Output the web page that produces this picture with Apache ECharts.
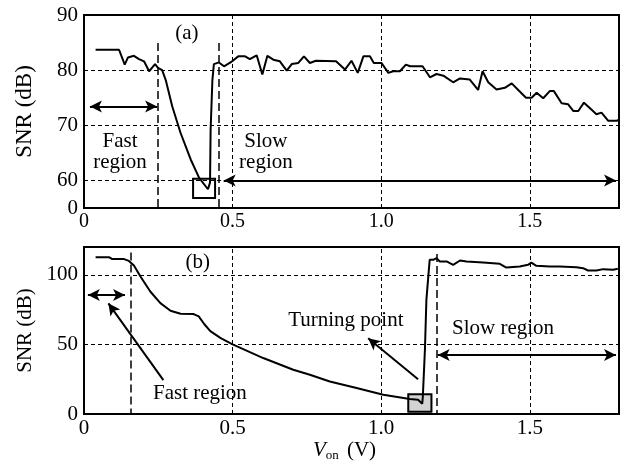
<!DOCTYPE html>
<html>
<head>
<meta charset="utf-8">
<script src="https://cdn.jsdelivr.net/npm/echarts@6/dist/echarts.min.js"></script>
<style>
  html, body { margin: 0; padding: 0; background: #fff; }
  #main { width: 626px; height: 470px; }
</style>
</head>
<body>
<div id="main"></div>
<script>
// panel (a): SNR vs Von
var topV = [0.039, 0.118, 0.137, 0.148, 0.168, 0.185, 0.202, 0.219, 0.230, 0.239, 0.249, 0.263, 0.275, 0.297, 0.325, 0.359, 0.387, 0.417, 0.424, 0.426, 0.432, 0.437, 0.454, 0.471, 0.493, 0.519, 0.542, 0.558, 0.581, 0.600, 0.617, 0.637, 0.659, 0.682, 0.699, 0.721, 0.740, 0.760, 0.780, 0.848, 0.878, 0.900, 0.921, 0.940, 0.962, 0.975, 1.001, 1.024, 1.040, 1.063, 1.083, 1.097, 1.139, 1.164, 1.186, 1.209, 1.242, 1.265, 1.298, 1.326, 1.341, 1.360, 1.388, 1.416, 1.439, 1.461, 1.487, 1.506, 1.523, 1.545, 1.567, 1.581, 1.607, 1.629, 1.646, 1.663, 1.682, 1.708, 1.724, 1.741, 1.764, 1.792, 1.800]
var topSNR = [83.7, 83.7, 81.0, 82.3, 82.6, 82.0, 81.6, 79.8, 80.5, 81.1, 80.4, 80.0, 78.2, 73.4, 68.6, 63.8, 60.5, 58.4, 59.6, 69.2, 78.2, 81.1, 81.4, 80.7, 81.4, 82.5, 82.5, 82.0, 82.7, 79.2, 82.6, 81.9, 81.6, 79.9, 81.1, 81.3, 82.5, 81.3, 81.7, 81.6, 80.1, 81.7, 79.5, 82.5, 82.5, 81.3, 81.3, 79.5, 79.8, 79.8, 81.0, 80.7, 80.7, 78.7, 79.3, 79.0, 77.8, 78.5, 78.3, 76.4, 79.8, 77.8, 76.5, 76.8, 77.6, 76.4, 75.0, 75.0, 75.9, 74.9, 76.2, 76.2, 74.0, 73.8, 72.6, 72.6, 74.1, 72.8, 72.0, 72.3, 70.8, 70.8, 71.0]

// panel (b)
var botV = [0.039, 0.084, 0.095, 0.135, 0.151, 0.168, 0.190, 0.223, 0.257, 0.291, 0.325, 0.369, 0.386, 0.405, 0.425, 0.460, 0.500, 0.603, 0.704, 0.760, 0.827, 0.917, 1.007, 1.096, 1.124, 1.138, 1.140, 1.147, 1.152, 1.163, 1.175, 1.186, 1.197, 1.220, 1.242, 1.265, 1.287, 1.343, 1.399, 1.421, 1.466, 1.494, 1.505, 1.522, 1.567, 1.600, 1.657, 1.679, 1.696, 1.724, 1.747, 1.780, 1.796]
var botSNR = [112.7, 112.7, 111.3, 111.3, 110.0, 106.7, 98.8, 88.0, 79.7, 74.2, 72.0, 71.8, 70.1, 64.5, 59.5, 54.5, 50.0, 40.2, 31.8, 28.2, 23.4, 18.7, 13.9, 10.8, 10.3, 7.4, 12.6, 46, 82, 110.8, 110.8, 112, 109.6, 109.6, 107.2, 110.3, 109.6, 108.8, 107.9, 105.2, 106.0, 107.2, 108.8, 106.5, 106.0, 106.0, 105.5, 104.8, 103.1, 103.1, 104.1, 103.6, 104.3]

// tick labels
var xTicks = [0, 0.5, 1.0, 1.5]
var xTickLabels = ['0', '0.5', '1.0', '1.5']
var topYTicks = [55, 60, 70, 80, 90]
var topYLabels = ['0', '60', '70', '80', '90']
var botYTicks = [0, 50, 100]
var botYLabels = ['0', '50', '100']

function zip(xs, ys) {
  return xs.map(function (x, i) { return [x, ys[i]] })
}
function pick(ticks, labels) {
  return function (v) {
    for (var i = 0; i < ticks.length; i++) {
      if (Math.abs(ticks[i] - v) < 1e-6) return labels[i]
    }
    return ''
  }
}

var font = 'Liberation Serif'
var grid = { type: [4, 3], color: '#000', width: 1 }
var region = { type: [8, 4], color: '#000', width: 1.5 }
var arrowLine = { type: 'solid', color: '#000', width: 2 }

function hline(y) { return { yAxis: y, lineStyle: grid } }
function vline(x) { return { xAxis: x, lineStyle: grid } }
function seg(x1, y1, x2, y2, style, s1, s2) {
  return [
    { coord: [x1, y1], symbol: s1 || 'none', symbolSize: [9, 12], lineStyle: style },
    { coord: [x2, y2], symbol: s2 || 'none', symbolSize: [9, 12] }
  ]
}
function note(text, x, y, size) {
  return {
    coord: [x, y], value: text,
    label: { formatter: text, fontSize: size || 21, lineHeight: 21 }
  }
}

var markPointBase = {
  symbol: 'circle', symbolSize: 1, silent: true,
  itemStyle: { color: 'rgba(0,0,0,0)' },
  label: { show: true, position: 'inside', color: '#000', fontFamily: font }
}

var myChart = echarts.init(document.getElementById('main'))
var option = {
  animation: false,
  grid: [
    { left: 84, top: 15, width: 535, height: 193, show: true, borderColor: '#000', borderWidth: 2 },
    { left: 84, top: 247, width: 535, height: 167, show: true, borderColor: '#000', borderWidth: 2 }
  ],
  xAxis: [
    {
      gridIndex: 0, type: 'value', min: 0, max: 1.8, interval: 0.5,
      axisLine: { show: false }, axisTick: { show: false }, splitLine: { show: false },
      axisLabel: { formatter: pick(xTicks, xTickLabels), color: '#000', fontFamily: font, fontSize: 20, margin: 4 }
    },
    {
      gridIndex: 1, type: 'value', min: 0, max: 1.8, interval: 0.5,
      axisLine: { show: false }, axisTick: { show: false }, splitLine: { show: false },
      axisLabel: { formatter: pick(xTicks, xTickLabels), color: '#000', fontFamily: font, fontSize: 21, margin: 4 },
      name: '{i|V}{s|on} (V)', nameLocation: 'middle', nameGap: 24,
      nameTextStyle: {
        color: '#000', fontFamily: font, fontSize: 21, padding: [0, 14, 0, 0],
        rich: {
          i: { fontStyle: 'italic', fontFamily: font, fontSize: 21, color: '#000' },
          s: { fontFamily: font, fontSize: 13, color: '#000', padding: [10, 3, 0, 0] }
        }
      }
    }
  ],
  yAxis: [
    {
      gridIndex: 0, type: 'value', min: 55, max: 90, interval: 5,
      axisLine: { show: false }, axisTick: { show: false }, splitLine: { show: false },
      axisLabel: { formatter: pick(topYTicks, topYLabels), color: '#000', fontFamily: font, fontSize: 21, margin: 6 },
      name: 'SNR (dB)', nameLocation: 'middle', nameGap: 48, nameRotate: 90,
      nameTextStyle: { color: '#000', fontFamily: font, fontSize: 23 }
    },
    {
      gridIndex: 1, type: 'value', min: 0, max: 120, interval: 50,
      axisLine: { show: false }, axisTick: { show: false }, splitLine: { show: false },
      axisLabel: { formatter: pick(botYTicks, botYLabels), color: '#000', fontFamily: font, fontSize: 21, margin: 6 },
      name: 'SNR (dB)', nameLocation: 'middle', nameGap: 48, nameRotate: 90,
      nameTextStyle: { color: '#000', fontFamily: font, fontSize: 21 }
    }
  ],
  series: [
    {
      name: '(a)', type: 'line', xAxisIndex: 0, yAxisIndex: 0,
      data: zip(topV, topSNR), showSymbol: false, silent: true,
      lineStyle: { color: '#000', width: 2 },
      markLine: {
        silent: true, symbol: ['none', 'none'], label: { show: false },
        data: [
          hline(60), hline(70), hline(80),
          vline(0.5), vline(1.0), vline(1.5),
          seg(0.249, 84.9, 0.249, 55, region),
          seg(0.454, 84.9, 0.454, 55, region),
          seg(0.02, 73.4, 0.246, 73.4, arrowLine, 'arrow', 'arrow'),
          seg(0.47, 60, 1.79, 60, arrowLine, 'arrow', 'arrow')
        ]
      },
      markArea: {
        silent: true,
        itemStyle: { color: 'rgba(0,0,0,0)', borderColor: '#000', borderWidth: 2 },
        data: [[{ coord: [0.367, 60.3] }, { coord: [0.441, 56.8] }]]
      },
      markPoint: Object.assign({}, markPointBase, {
        data: [
          note('(a)', 0.346, 86.7, 21),
          note('Fast\nregion', 0.121, 65.2, 21),
          note('Slow\nregion', 0.612, 65.2, 21)
        ]
      })
    },
    {
      name: '(b)', type: 'line', xAxisIndex: 1, yAxisIndex: 1,
      data: zip(botV, botSNR), showSymbol: false, silent: true,
      lineStyle: { color: '#000', width: 2 },
      markLine: {
        silent: true, symbol: ['none', 'none'], label: { show: false },
        data: [
          hline(50), hline(100),
          vline(0.5), vline(1.0), vline(1.5),
          seg(0.158, 116, 0.158, 0, region),
          seg(1.186, 115, 1.186, 0, region),
          seg(0.013, 85.5, 0.138, 85.5, arrowLine, 'arrow', 'arrow'),
          seg(0.267, 24.4, 0.082, 79.5, arrowLine, 'none', 'arrow'),
          seg(1.124, 24.9, 0.956, 54.4, arrowLine, 'none', 'arrow'),
          seg(1.19, 42.4, 1.79, 42.4, arrowLine, 'arrow', 'arrow')
        ]
      },
      markArea: {
        silent: true,
        itemStyle: { color: 'rgba(200,200,200,0.8)', borderColor: '#000', borderWidth: 2 },
        data: [[{ coord: [1.091, 14.2] }, { coord: [1.169, 1.7] }]]
      },
      markPoint: Object.assign({}, markPointBase, {
        data: [
          note('(b)', 0.383, 109.2, 21),
          note('Fast region', 0.39, 14.9, 21),
          note('Turning point', 0.881, 67.5, 21),
          note('Slow region', 1.41, 61.6, 21)
        ]
      })
    }
  ]
}
myChart.setOption(option)
</script>
</body>
</html>
